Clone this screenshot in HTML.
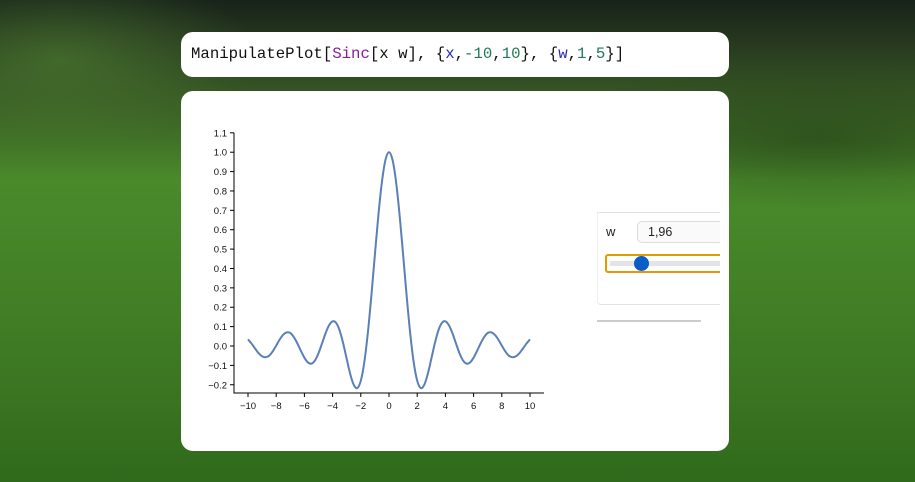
<!DOCTYPE html>
<html><head><meta charset="utf-8"><style>
body{margin:0;width:915px;height:482px;overflow:hidden;position:relative;font-family:"Liberation Sans",sans-serif;
background:linear-gradient(180deg,#18231a 0px,#26361f 40px,#3a5f25 110px,#4a8a2b 180px,#427f26 300px,#3a7421 400px,#2f6a1c 482px);}
.card{position:absolute;background:#fff;border-radius:12px;}
</style></head><body>
<div style="position:absolute;left:0;top:0;width:915px;height:482px;background:radial-gradient(ellipse 200px 90px at 60px 60px,rgba(80,130,50,0.6),transparent),radial-gradient(ellipse 300px 70px at 820px 140px,rgba(30,55,20,0.5),transparent)"></div>
<div class="card" style="left:181px;top:32px;width:548px;height:45px;">
<div style="position:absolute;left:10px;top:13px;font-family:'Liberation Mono',monospace;font-size:15.7px;color:#111;white-space:pre">ManipulatePlot[<span style="color:#8a1c9c">Sinc</span>[x w], {<span style="color:#2a2ab0">x</span>,<span style="color:#1d7a55">-10</span>,<span style="color:#1d7a55">10</span>}, {<span style="color:#2a2ab0">w</span>,<span style="color:#1d7a55">1</span>,<span style="color:#1d7a55">5</span>}]</div>
</div>
<div class="card" style="left:181px;top:91px;width:548px;height:360px;overflow:hidden;">
<svg id="chart" width="548" height="360" style="position:absolute;left:0;top:0" font-family="Liberation Sans, sans-serif" font-size="9.5"></svg>
<div style="position:absolute;left:410px;top:110px;width:129px;height:130px;overflow:hidden">
<div style="position:absolute;left:6px;top:11px;width:140px;height:91px;border-top:1px solid #e2e2e2;border-bottom:1px solid #e2e2e2;border-left:1px solid #eee;border-radius:0 0 0 4px"></div>
<div style="position:absolute;left:6px;top:119px;width:104px;height:2px;background:#ccc"></div>
<div style="position:absolute;left:15px;top:23px;font-size:13px;color:#222">w</div>
<div style="position:absolute;left:46px;top:20px;width:100px;height:20px;border:1px solid #ddd;border-radius:5px;background:#fafafa;font-size:12.5px;line-height:20px;padding-left:10px;color:#222">1,96</div>
<div style="position:absolute;left:14px;top:53px;width:130px;height:15px;border:2px solid #e39a00;border-radius:3px">
<div style="position:absolute;left:3px;right:0;top:5px;height:5px;background:#e4e4e8"></div>
<div style="position:absolute;left:27px;top:0px;width:15px;height:15px;border-radius:50%;background:#0a5cc8"></div>
</div>
</div>
</div>
<script>
const xValues=[-10,-9.75,-9.5,-9.25,-9,-8.75,-8.5,-8.25,-8,-7.75,-7.5,-7.25,-7,-6.75,-6.5,-6.25,-6,-5.75,-5.5,-5.25,-5,-4.75,-4.5,-4.25,-4,-3.75,-3.5,-3.25,-3,-2.75,-2.5,-2.25,-2,-1.75,-1.5,-1.25,-1,-0.75,-0.5,-0.25,0,0.25,0.5,0.75,1,1.25,1.5,1.75,2,2.25,2.5,2.75,3,3.25,3.5,3.75,4,4.25,4.5,4.75,5,5.25,5.5,5.75,6,6.25,6.5,6.75,7,7.25,7.5,7.75,8,8.25,8.5,8.75,9,9.25,9.5,9.75,10];
const yValues=[0.0342,0.0126,-0.0128,-0.0369,-0.0529,-0.0578,-0.0501,-0.0281,0.0019,0.0335,0.0582,0.0702,0.0670,0.0459,0.0135,-0.0249,-0.0604,-0.0849,-0.0909,-0.0748,-0.0374,0.0134,0.0657,0.1070,0.1275,0.1191,0.0800,0.0136,-0.0666,-0.1445,-0.2005,-0.2169,-0.1795,-0.0828,0.0681,0.2603,0.4719,0.6768,0.8474,0.9604,1,0.9604,0.8474,0.6768,0.4719,0.2603,0.0681,-0.0828,-0.1795,-0.2169,-0.2005,-0.1445,-0.0666,0.0136,0.0800,0.1191,0.1275,0.1070,0.0657,0.0134,-0.0374,-0.0748,-0.0909,-0.0849,-0.0604,-0.0249,0.0135,0.0459,0.0670,0.0702,0.0582,0.0335,0.0019,-0.0281,-0.0501,-0.0578,-0.0529,-0.0369,-0.0128,0.0126,0.0342];
const xTicks=[-10,-8,-6,-4,-2,0,2,4,6,8,10];
const yTicks=[-0.2,-0.1,0.0,0.1,0.2,0.3,0.4,0.5,0.6,0.7,0.8,0.9,1.0,1.1];
const svg=document.getElementById('chart');const NS='http://www.w3.org/2000/svg';
const X=v=>67+(v+10)*14.1;const Y=v=>255-v*193.8;
function mk(t,a){const e=document.createElementNS(NS,t);for(const k in a)e.setAttribute(k,a[k]);svg.appendChild(e);return e;}
let ax=mk('path',{d:`M53,${Y(1.1)}V302H363`,fill:'none',stroke:'#000','stroke-width':1});


yTicks.forEach(t=>{
 const l=mk('line',{x1:49,x2:53,y1:Y(t),y2:Y(t),stroke:'#000'});
 
 
 const tx=mk('text',{x:46,y:Y(t)+3.5,'text-anchor':'end',fill:'#111'});
 tx.textContent=(t<0?'\u2212':'')+Math.abs(t).toFixed(1);
 
 
});
xTicks.forEach(t=>{
 const l=mk('line',{x1:X(t),x2:X(t),y1:302,y2:306,stroke:'#000'});
 
 
 const tx=mk('text',{x:X(t),y:318,'text-anchor':'middle',fill:'#111'});
 tx.textContent=(t<0?'\u2212':'')+Math.abs(t);
 
 
});
const P=xValues.map((x,i)=>[X(x),Y(yValues[i])]);
let d='M'+P[0][0]+','+P[0][1];
for(let i=0;i<P.length-1;i++){const p0=P[Math.max(0,i-1)],p1=P[i],p2=P[i+1],p3=P[Math.min(P.length-1,i+2)];
 d+=`C${p1[0]+(p2[0]-p0[0])/6},${p1[1]+(p2[1]-p0[1])/6} ${p2[0]-(p3[0]-p1[0])/6},${p2[1]-(p3[1]-p1[1])/6} ${p2[0]},${p2[1]}`;}
const line=mk('path',{d,fill:'none',stroke:'#5b7fb8','stroke-width':2});


</script>
</body></html>
